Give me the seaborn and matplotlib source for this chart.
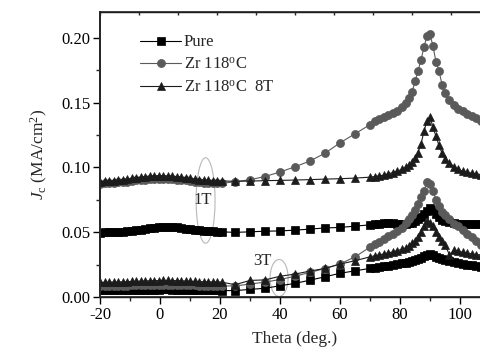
import matplotlib
matplotlib.use("Agg")
import matplotlib.pyplot as plt
from matplotlib.patches import Ellipse
import seaborn as sns
import pandas as pd

# ---------------- data ----------------
theta = [-20, -18.5, -17, -15.5, -14, -12.5, -11, -9.5, -8, -6.5, -5, -3.5, -2, -0.5,
         1, 2.5, 4, 5.5, 7, 8.5, 10, 11.5, 13, 14.5, 16, 17.5, 19, 20.5,
         25, 30, 35, 40, 45, 50, 55, 60, 65,
         70, 71.5, 73, 74.5, 76, 77.5, 79, 80.5, 82, 83, 84, 85, 86, 87, 88, 89, 90,
         91, 92, 93, 94, 95, 96.5, 98, 99.5, 101, 102.5, 104, 105.5, 107]

pure_1t = [0.0497, 0.0498, 0.0499, 0.0500, 0.0502, 0.0505, 0.0508, 0.0512, 0.0516, 0.0520,
           0.0525, 0.0530, 0.0534, 0.0538, 0.0540, 0.0542, 0.0541, 0.0538, 0.0533, 0.0528,
           0.0523, 0.0518, 0.0514, 0.0511, 0.0508, 0.0506, 0.0504, 0.0503,
           0.0499, 0.0503, 0.0508, 0.0510, 0.0516, 0.0524, 0.0533, 0.0537, 0.0547,
           0.0557, 0.0562, 0.0566, 0.0568, 0.0569, 0.0569, 0.0567, 0.0565, 0.0565, 0.0568,
           0.0575, 0.0585, 0.0600, 0.0618, 0.0640, 0.0665, 0.0690,
           0.0670, 0.0640, 0.0615, 0.0597, 0.0585, 0.0576, 0.0570, 0.0567, 0.0565, 0.0565,
           0.0565, 0.0564, 0.0563]

zr_1t = [0.0875, 0.0877, 0.0880, 0.0882, 0.0885, 0.0888, 0.0890, 0.0895, 0.0900, 0.0903,
         0.0906, 0.0908, 0.0910, 0.0911, 0.0911, 0.0910, 0.0908, 0.0905, 0.0902, 0.0900,
         0.0895, 0.0890, 0.0886, 0.0883, 0.0880, 0.0878, 0.0877, 0.0877,
         0.0890, 0.0905, 0.0930, 0.0965, 0.1005, 0.1050, 0.1110, 0.1190, 0.1260,
         0.1330, 0.1356, 0.1375, 0.1388, 0.1402, 0.1418, 0.1438, 0.1465, 0.1500, 0.1535,
         0.1580, 0.1665, 0.1745, 0.1830, 0.1930, 0.2015, 0.2030,
         0.1935, 0.1815, 0.1745, 0.1640, 0.1575, 0.1520, 0.1485, 0.1455, 0.1435, 0.1415,
         0.1398, 0.1378, 0.1360]

zr8t_1t = [0.0890, 0.0892, 0.0895, 0.0898, 0.0900, 0.0905, 0.0910, 0.0915, 0.0920, 0.0925,
           0.0930, 0.0933, 0.0935, 0.0937, 0.0937, 0.0935, 0.0932, 0.0930, 0.0925, 0.0920,
           0.0915, 0.0910, 0.0905, 0.0902, 0.0900, 0.0898, 0.0897, 0.0896,
           0.0893, 0.0895, 0.0898, 0.0900, 0.0903, 0.0906, 0.0910, 0.0913, 0.0918,
           0.0925, 0.0930, 0.0935, 0.0940, 0.0950, 0.0960, 0.0970, 0.0985, 0.1003, 0.1020,
           0.1040, 0.1070, 0.1115, 0.1180, 0.1280, 0.1360, 0.1390,
           0.1310, 0.1240, 0.1170, 0.1110, 0.1065, 0.1035, 0.1005, 0.0985, 0.0970, 0.0962,
           0.0955, 0.0950, 0.0945]

pure_3t = [0.0052, 0.0051, 0.0052, 0.0052, 0.0053, 0.0052, 0.0053, 0.0054, 0.0054, 0.0055,
           0.0055, 0.0056, 0.0057, 0.0057, 0.0058, 0.0058, 0.0057, 0.0057, 0.0056, 0.0055,
           0.0055, 0.0054, 0.0053, 0.0053, 0.0052, 0.0052, 0.0051, 0.0050,
           0.0049, 0.0059, 0.0067, 0.0087, 0.0105, 0.0130, 0.0156, 0.0183, 0.0202,
           0.0221, 0.0226, 0.0232, 0.0238, 0.0243, 0.0249, 0.0254, 0.0260, 0.0266, 0.0270,
           0.0276, 0.0283, 0.0292, 0.0302, 0.0315, 0.0328, 0.0335,
           0.0325, 0.0310, 0.0298, 0.0290, 0.0283, 0.0275, 0.0268, 0.0262, 0.0255, 0.0250,
           0.0244, 0.0239, 0.0234]

zr_3t = [0.0085, 0.0085, 0.0086, 0.0086, 0.0087, 0.0087, 0.0088, 0.0089, 0.0090, 0.0091,
         0.0092, 0.0093, 0.0094, 0.0095, 0.0095, 0.0095, 0.0094, 0.0093, 0.0092, 0.0091,
         0.0090, 0.0089, 0.0088, 0.0088, 0.0087, 0.0087, 0.0086, 0.0086,
         0.0085, 0.0100, 0.0115, 0.0135, 0.0160, 0.0190, 0.0220, 0.0255, 0.0310,
         0.0385, 0.0410, 0.0425, 0.0450, 0.0470, 0.0488, 0.0510, 0.0535, 0.0570, 0.0605,
         0.0630, 0.0675, 0.0715, 0.0770, 0.0820, 0.0890, 0.0870,
         0.0820, 0.0750, 0.0700, 0.0660, 0.0630, 0.0600, 0.0560, 0.0545, 0.0520, 0.0490,
         0.0465, 0.0435, 0.0400]

zr8t_3t = [0.0112, 0.0113, 0.0114, 0.0115, 0.0116, 0.0117, 0.0118, 0.0120, 0.0121, 0.0122,
           0.0123, 0.0125, 0.0126, 0.0127, 0.0128, 0.0128, 0.0127, 0.0126, 0.0125, 0.0123,
           0.0122, 0.0120, 0.0119, 0.0118, 0.0117, 0.0116, 0.0116, 0.0115,
           0.0095, 0.0128, 0.0132, 0.0160, 0.0177, 0.0200, 0.0221, 0.0254, 0.0280,
           0.0310, 0.0318, 0.0325, 0.0332, 0.0340, 0.0348, 0.0357, 0.0368, 0.0380, 0.0395,
           0.0415, 0.0435, 0.0465, 0.0505, 0.0550, 0.0590, 0.0575,
           0.0550, 0.0500, 0.0465, 0.0430, 0.0405, 0.0324, 0.0360, 0.0352, 0.0345, 0.0338,
           0.0333, 0.0328, 0.0324]

labels = ["Pure", "Zr 118$^{\\rm o}$C", "Zr 118$^{\\rm o}$C  8T"]

# ---------------- style ----------------
sns.set_theme(style="ticks")
plt.rcParams["font.family"] = ["Liberation Serif", "DejaVu Serif"]
plt.rcParams["mathtext.fontset"] = "custom"
plt.rcParams["mathtext.rm"] = "Liberation Serif"
plt.rcParams["mathtext.it"] = "Liberation Serif:italic"
plt.rcParams["mathtext.bf"] = "Liberation Serif:bold"
plt.rcParams["axes.unicode_minus"] = False

fig = plt.figure(figsize=(4.81, 3.58), dpi=100)
ax = fig.add_axes([100 / 481, 61 / 358, 390 / 481, 285 / 358])

black = "#000000"
gray = "#5a5a5a"
dark = "#1c1c1c"

series = [
    (pure_1t, "s", black, labels[0]),
    (zr_1t, "o", gray, labels[1]),
    (zr8t_1t, "^", dark, labels[2]),
    (pure_3t, "s", black, None),
    (zr_3t, "o", gray, None),
    (zr8t_3t, "^", dark, None),
]

for vals, mk, col, lab in series:
    df = pd.DataFrame({"theta": theta, "jc": vals})
    sns.lineplot(data=df, x="theta", y="jc", marker=mk, color=col, markersize=5.8,
                 markeredgecolor=col, markeredgewidth=0.5, linewidth=0.8,
                 estimator=None, sort=False, ax=ax, label=lab, legend=bool(lab))

ax.set_xlim(-20, 110)
ax.set_ylim(0, 0.22)
ax.set_xticks([-20, 0, 20, 40, 60, 80, 100])
ax.set_xticks(range(-10, 110, 20), minor=True)
ax.set_yticks([0.00, 0.05, 0.10, 0.15, 0.20])
ax.set_yticks([0.025, 0.075, 0.125, 0.175], minor=True)
ax.set_yticklabels(["0.00", "0.05", "0.10", "0.15", "0.20"])
ax.set_xticklabels(["-20", "0", "20", "40", "60", "80", "100"])
ax.tick_params(axis="both", which="major", direction="out", length=5, width=1,
               labelsize=12, colors="black", pad=2)
ax.tick_params(axis="both", which="minor", direction="out", length=3, width=1)
for s in ax.spines.values():
    s.set_linewidth(1.0)
    s.set_color("black")
ax.spines["left"].set_color("#333333")
ax.spines["left"].set_linewidth(1.4)

top = ax.twiny()
top.set_xlim(0, 10)
top.set_xticks(range(11))
top.tick_params(axis="x", direction="in", length=2.5, width=1, labeltop=False, top=True)
top.spines["top"].set_linewidth(1.2)

ax.set_xlabel("Theta (deg.)", fontsize=12.5, labelpad=6)
ax.set_ylabel("$J_{\\rm c}$ (MA/cm$^{2}$)", fontsize=12.5, labelpad=8)

leg = ax.legend(loc="upper left", bbox_to_anchor=(0.085, 0.945), frameon=False,
                fontsize=12, handlelength=2.5, handletextpad=0.15, labelspacing=0.4,
                borderaxespad=0, numpoints=1)

ell_col = "#b8b8b8"
ax.add_patch(Ellipse((15.2, 0.0745), 6.3, 0.066, fill=False, edgecolor=ell_col, linewidth=0.8))
ax.add_patch(Ellipse((39.7, 0.0147), 6.0, 0.0286, fill=False, edgecolor=ell_col, linewidth=0.8))
ax.text(14.3, 0.0745, "1T", fontsize=12, ha="center", va="center")
ax.text(34.0, 0.0275, "3T", fontsize=12, ha="center", va="center")

fig.savefig("out.png", dpi=100)
